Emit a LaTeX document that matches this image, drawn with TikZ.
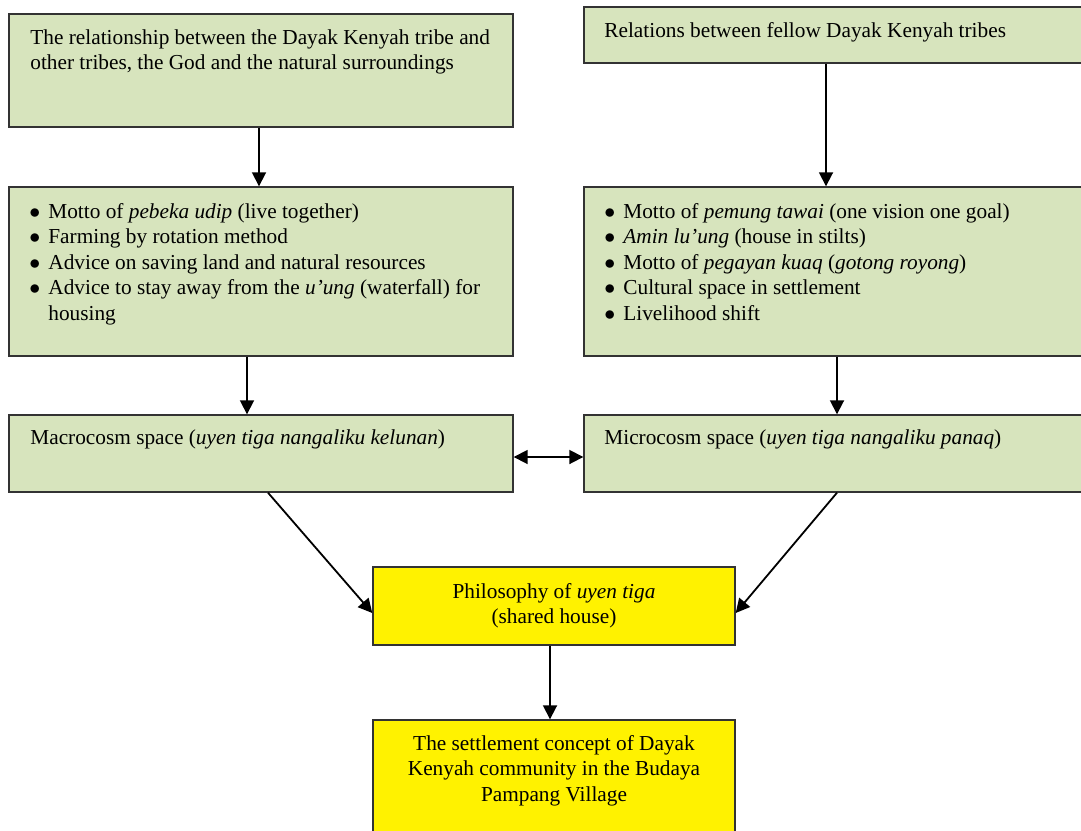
\documentclass[tikz,border=0pt]{standalone}
\usepackage{fontspec}
\setmainfont{Liberation Serif}
\usepackage{tikz}
\usetikzlibrary{arrows.meta,positioning,calc,fit}
\definecolor{boxgreen}{HTML}{D7E4BD}
\newcommand{\bitem}{\makebox[9.5pt][l]{$\bullet$}}
\newcommand{\bskip}{\hspace*{9.5pt}}

\begin{document}
\begin{tikzpicture}[
  x=0.5pt, y=-0.5pt,
  font=\fontsize{10.65}{12.75}\selectfont,
  box/.style={draw=black!80, line width=0.7pt, fill=boxgreen, inner sep=0pt},
  ybox/.style={box, fill=yellow},
  txt/.style={anchor=north west, inner sep=0pt, align=left},
  ctxt/.style={anchor=north, inner sep=0pt, align=center},
  arr/.style={-{Triangle[length=7pt,width=7pt]}, line width=0.9pt},
  darr/.style={{Triangle[length=7pt,width=7pt]}-{Triangle[length=7pt,width=7pt]}, line width=0.9pt}
]
\useasboundingbox (0,0) rectangle (1081,830);

% boxes
\node[box, fit={(9,14) (513,127)}] (tribes) {};
\node[box, fit={(584,7) (1090,63)}] (fellow) {};
\node[box, fit={(9,187) (513,356)}] (macrolist) {};
\node[box, fit={(584,187) (1090,356)}] (microlist) {};
\node[box, fit={(9,415) (513,492)}] (macro) {};
\node[box, fit={(584,415) (1090,492)}] (micro) {};
\node[ybox, fit={(373,567) (735,645)}] (philo) {};
\node[ybox, fit={(373,720) (735,840)}] (concept) {};

% texts
\node[txt] (tribestext) at (30,26) {\strut The relationship between the Dayak Kenyah tribe and\\other tribes, the God and the natural surroundings};
\node[txt] (fellowtext) at (604,19) {\strut Relations between fellow Dayak Kenyah tribes};
\node[txt] (macrolisttext) at (29,200) {\strut\bitem Motto of \emph{pebeka udip} (live together)\\
  \bitem Farming by rotation method\\
  \bitem Advice on saving land and natural resources\\
  \bitem Advice to stay away from the \emph{u’ung} (waterfall) for\\
  \bskip housing};
\node[txt] (microlisttext) at (604,200) {\strut\bitem Motto of \emph{pemung tawai} (one vision one goal)\\
  \bitem \emph{Amin lu’ung} (house in stilts)\\
  \bitem Motto of \emph{pegayan kuaq} (\emph{gotong royong})\\
  \bitem Cultural space in settlement\\
  \bitem Livelihood shift};
\node[txt] (macrotext) at (30,426) {\strut Macrocosm space (\emph{uyen tiga nangaliku kelunan})};
\node[txt] (microtext) at (604,426) {\strut Microcosm space (\emph{uyen tiga nangaliku panaq})};
\node[ctxt] (philotext) at (554,580) {\strut Philosophy of \emph{uyen tiga}\\(shared house)};
\node[ctxt] (concepttext) at (554,732) {\strut The settlement concept of Dayak\\Kenyah community in the Budaya\\Pampang Village};

% connectors
\draw[arr] ([xshift=-1pt]tribes.south) -- ([xshift=-1pt]macrolist.north);
\draw[arr] ([xshift=-5.5pt]fellow.south) -- ([xshift=-5.5pt]microlist.north);
\draw[arr] ([xshift=-7pt]macrolist.south) -- ([xshift=-7pt]macro.north);
\draw[arr] (microlist.south) -- (micro.north);
\draw[darr] ([yshift=-1.75pt]macro.east) -- ([yshift=-1.75pt]micro.west);
\draw[arr] ([xshift=3.5pt]macro.south) -- ([yshift=-3.5pt]philo.west);
\draw[arr] (micro.south) -- ([yshift=-3.5pt]philo.east);
\draw[arr] ([xshift=-2pt]philo.south) -- ([xshift=-2pt]concept.north);
\end{tikzpicture}
\end{document}
